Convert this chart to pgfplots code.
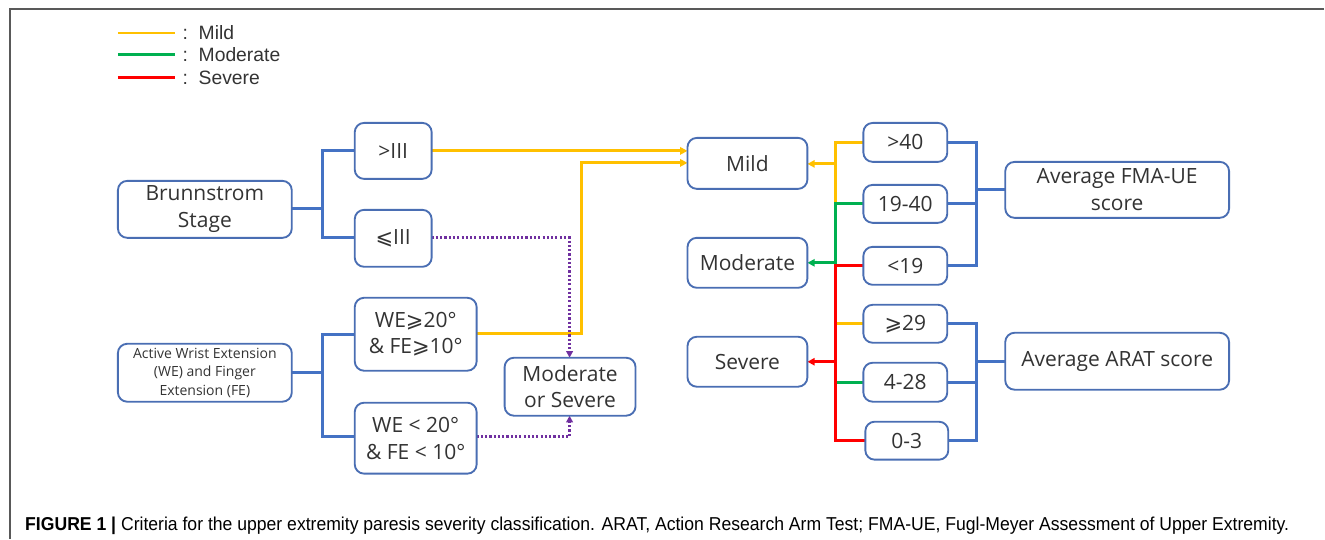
\documentclass[border=0pt]{standalone}
\usepackage{pgfplots}
\pgfplotsset{compat=1.18}
\usepackage{fontspec}
\setmainfont{Liberation Sans}
\newfontfamily\boxfont{Open Sans}
\newfontfamily\symfont{DejaVu Sans}
\usetikzlibrary{arrows.meta,calc}
\definecolor{cyel}{HTML}{FFC000}
\definecolor{cgrn}{HTML}{00B050}
\definecolor{cred}{HTML}{FF0000}
\definecolor{cblu}{HTML}{4472C4}
\definecolor{cbox}{HTML}{4A6EB3}
\definecolor{cpur}{HTML}{7030A0}
\definecolor{ctxt}{HTML}{333333}
\newcommand{\bx}[6][\fontsize{15.75}{20}\selectfont]{%
  \draw[cbox, line width=1.4pt, rounded corners=7pt, fill=white] (axis cs:#2,#3) rectangle (axis cs:#4,#5);
  \node[text=ctxt, align=center, inner sep=0pt, font=\boxfont#1] at ($(axis cs:#2,#3)!0.5!(axis cs:#4,#5)$) {#6};}
\begin{document}
\begin{tikzpicture}
\begin{axis}[scale only axis, width=993.75pt, height=404.25pt,
  xmin=0, xmax=1325, ymin=0, ymax=539, y dir=reverse, hide axis, clip=false]
\addplot[draw=none] coordinates {(0,0) (1325,539)};
% frame
\addplot[black!65, line width=1.5pt] coordinates {(1325,9) (10,9) (10,539)};
% legend
\addplot[cyel, line width=2.2pt] coordinates {(118,33) (175,33)};
\addplot[cgrn, line width=2.2pt] coordinates {(118,55) (175,55)};
\addplot[cred, line width=2.2pt] coordinates {(118,78) (175,78)};
\node[anchor=west, text=ctxt, font=\fontsize{14.5}{18}\selectfont] at (axis cs:178,33) {:\ \ Mild};
\node[anchor=west, text=ctxt, font=\fontsize{14.5}{18}\selectfont] at (axis cs:178,55) {:\ \ Moderate};
\node[anchor=west, text=ctxt, font=\fontsize{14.5}{18}\selectfont] at (axis cs:178,78) {:\ \ Severe};
% blue connectors
\addplot[cblu, line width=2.2pt] coordinates {(292,209) (323,209)};
\addplot[cblu, line width=2.2pt] coordinates {(355,151) (323,151) (323,238) (355,238)};
\addplot[cblu, line width=2.2pt] coordinates {(292,373) (323,373)};
\addplot[cblu, line width=2.2pt] coordinates {(355,335) (323,335) (323,437) (355,437)};
\addplot[cblu, line width=2.2pt] coordinates {(948,143) (977,143) (977,266) (948,266)};
\addplot[cblu, line width=2.2pt] coordinates {(948,204) (977,204)};
\addplot[cblu, line width=2.2pt] coordinates {(977,190) (1006,190)};
\addplot[cblu, line width=2.2pt] coordinates {(948,324) (977,324) (977,441) (949,441)};
\addplot[cblu, line width=2.2pt] coordinates {(948,383) (977,383)};
\addplot[cblu, line width=2.2pt] coordinates {(977,362) (1006,362)};
% yellow
\addplot[cyel, line width=2.2pt, -{Triangle[length=5.5pt,width=5.5pt]}] coordinates {(432,151) (688,151)};
\addplot[cyel, line width=2.2pt, -{Triangle[length=5.5pt,width=5.5pt]}] coordinates {(477,334) (582,334) (582,163) (688,163)};
\addplot[cyel, line width=2.2pt] coordinates {(864,143) (836,143) (836,204)};
\addplot[cyel, line width=2.2pt, -{Triangle[length=5.5pt,width=5.5pt]}] coordinates {(836,164) (808,164)};
\addplot[cyel, line width=2.2pt] coordinates {(864,324) (836,324)};
% green
\addplot[cgrn, line width=2.2pt] coordinates {(864,204) (836,204) (836,264)};
\addplot[cgrn, line width=2.2pt, -{Triangle[length=5.5pt,width=5.5pt]}] coordinates {(836,263) (808,263)};
\addplot[cgrn, line width=2.2pt] coordinates {(864,383) (836,383)};
% red
\addplot[cred, line width=2.2pt] coordinates {(864,266) (836,266) (836,441) (866,441)};
\addplot[cred, line width=2.2pt, -{Triangle[length=5.5pt,width=5.5pt]}] coordinates {(836,362) (808,362)};
% purple dotted
\addplot[cpur, line width=2pt, dash pattern=on 1.6pt off 1.6pt, -{Triangle[length=5pt,width=5pt]}] coordinates {(432,238) (570,238) (570,358)};
\addplot[cpur, line width=2pt, dash pattern=on 1.6pt off 1.6pt, -{Triangle[length=5pt,width=5pt]}] coordinates {(477,437) (570,437) (570,416)};
% boxes
\bx{118}{181}{292}{238}{Brunnstrom\\Stage}
\bx{355}{123}{432}{179}{>III}
\bx{355}{210}{432}{267}{{\symfont ⩽}III}
\bx[\fontsize{10.5}{13.9}\selectfont]{118}{344}{292}{402}{Active Wrist Extension\\(WE) and Finger\\Extension (FE)}
\bx{355}{298}{477}{371}{WE{\symfont ⩾}20°\\\& FE{\symfont ⩾}10°}
\bx{355}{403}{477}{474}{WE < 20°\\\& FE < 10°}
\bx{688}{138}{808}{189}{Mild}
\bx{688}{238}{808}{288}{Moderate}
\bx{688}{337}{808}{387}{Severe}
\bx{505}{358}{636}{416}{Moderate\\or Severe}
\bx{864}{123}{948}{162}{>40}
\bx{864}{185}{948}{223}{19-40}
\bx{864}{247}{948}{285}{<19}
\bx{864}{305}{948}{343}{{\symfont ⩾}29}
\bx{864}{363}{948}{402}{4-28}
\bx{866}{422}{949}{460}{0-3}
\bx{1006}{162}{1230}{218}{Average FMA-UE\\score}
\bx{1006}{333}{1230}{390}{Average ARAT score}
% caption
\node[anchor=base west, inner sep=0pt, font=\fontsize{14}{16}\selectfont] at (axis cs:25,531) {\scalebox{0.943}[1]{\textbf{FIGURE 1 |} Criteria for the upper extremity paresis severity classification. ARAT, Action Research Arm Test; FMA-UE, Fugl-Meyer Assessment of Upper Extremity.}};
\end{axis}
\end{tikzpicture}
\end{document}
